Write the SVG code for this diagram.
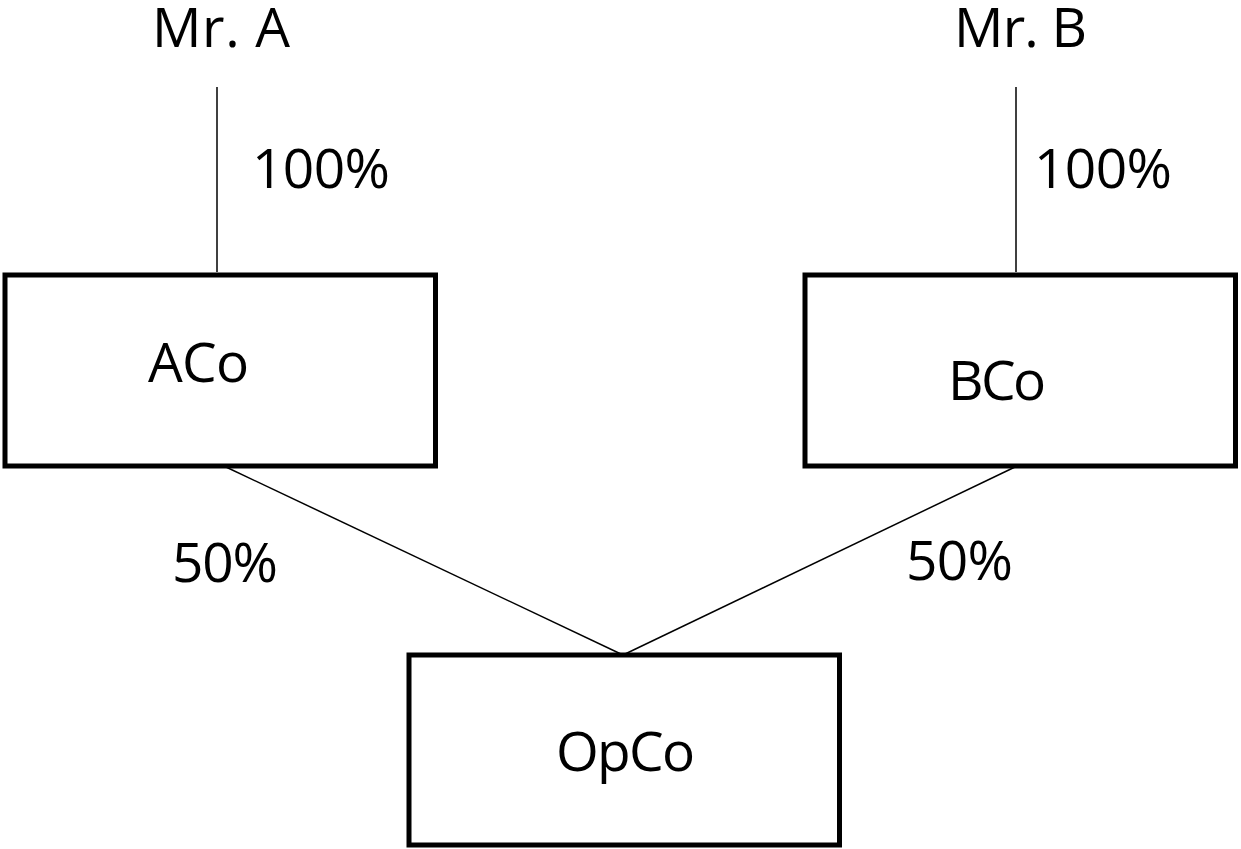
<svg xmlns="http://www.w3.org/2000/svg" width="1241" height="849" viewBox="0 0 1241 849">
<style>
.box{fill:#fff;stroke:#000;stroke-width:5}
.ln{stroke:#000;stroke-width:1.5;fill:none}
text{font-family:"Open Sans","Noto Sans",sans-serif;font-size:55px;fill:#000}
</style>
<rect width="1241" height="849" fill="#fff"/>
<g id="connectors">
<line class="ln" x1="217" y1="87" x2="217" y2="272"/>
<line class="ln" x1="1016" y1="87" x2="1016" y2="272"/>
<line class="ln" x1="226" y1="467" x2="623" y2="655"/>
<line class="ln" x1="1015" y1="467" x2="623" y2="655"/>
<text x="252" y="188" textLength="138">100%</text>
<text x="1034" y="188" textLength="138">100%</text>
<text x="172" y="582" textLength="106">50%</text>
<text x="906" y="580" textLength="107">50%</text>
</g>
<g id="mrA"><text x="152" y="47" textLength="138">Mr. A</text></g>
<g id="mrB"><text x="954" y="47" textLength="133">Mr. B</text></g>
<g id="ACo"><rect class="box" x="5" y="275" width="430.5" height="191"/><text x="148" y="382" textLength="101">ACo</text></g>
<g id="BCo"><rect class="box" x="805" y="275" width="430.5" height="191"/><text x="948" y="400" textLength="98">BCo</text></g>
<g id="OpCo"><rect class="box" x="409" y="655" width="430.5" height="190"/><text x="556" y="771" textLength="139">OpCo</text></g>
</svg>
